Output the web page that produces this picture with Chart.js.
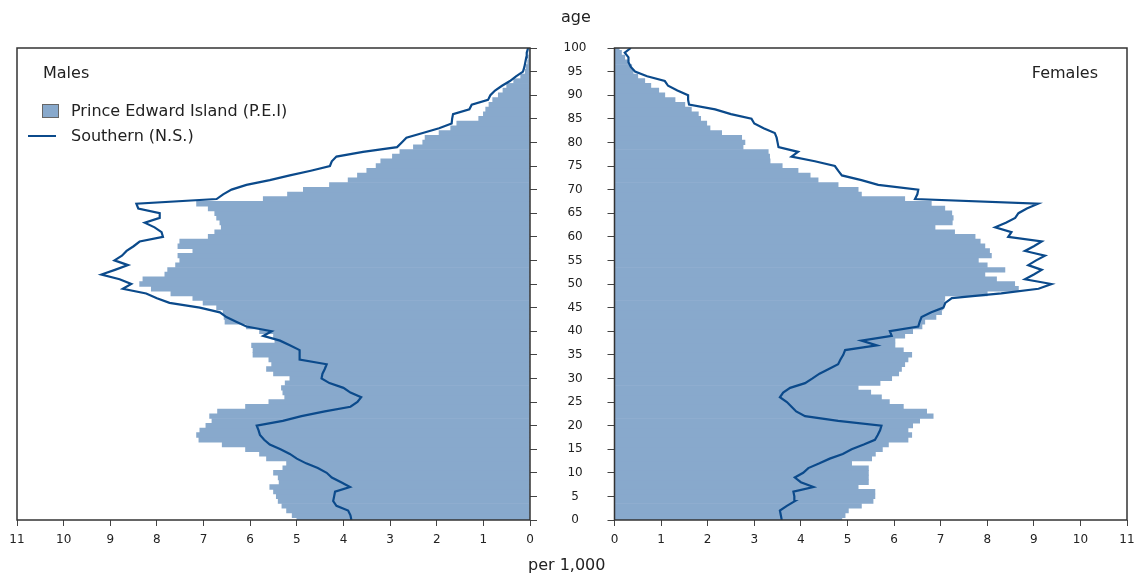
<!DOCTYPE html>
<html lang="en">
<head>
<meta charset="UTF-8">
<title>Age pyramid, P.E.I. and Southern N.S.</title>
<script src="https://cdn.jsdelivr.net/npm/chart.js@4.4.1/dist/chart.umd.min.js"></script>
<style>
  body { margin: 0; background: #fff; font-family: "DejaVu Sans", Verdana, sans-serif; color: #222; }
  #wrap { position: relative; width: 1134px; height: 575px; overflow: hidden; }
  canvas { position: absolute; top: 0; }
  .lbl { position: absolute; font-size: 16px; line-height: 16px; white-space: nowrap; }
  .swatch { position: absolute; left: 42px; top: 104px; width: 15px; height: 12px; background: #88a9cc; border: 1px solid #666; }
  .lineKey { position: absolute; left: 28px; top: 135px; width: 28px; height: 2px; background: #0b4a8b; }
</style>
</head>
<body>
<div id="wrap">
  <canvas id="males" width="540" height="575" style="left:0"></canvas>
  <canvas id="females" width="594" height="575" style="left:540px"></canvas>

  <div class="lbl" style="left:561px; top:9px;">age</div>
  <div class="lbl" style="left:528px; top:557px;">per 1,000</div>
  <div class="lbl" style="left:43px; top:65px;">Males</div>
  <div class="lbl" style="right:36px; top:65px;">Females</div>
  <div class="swatch"></div>
  <div class="lbl" style="left:71px; top:103px;">Prince Edward Island (P.E.I)</div>
  <div class="lineKey"></div>
  <div class="lbl" style="left:71px; top:128px;">Southern (N.S.)</div>
</div>

<script>
// single years of age, 0 to 100
const ages = Array.from({ length: 101 }, (_, i) => i);

// per 1,000 population, by single year of age
const malesPEI = [
  5.00, 5.10, 5.22, 5.32, 5.40, 5.44, 5.50, 5.58, 5.38, 5.40,
  5.50, 5.30, 5.22, 5.65, 5.80, 6.10, 6.60, 7.10, 7.15, 7.08,
  6.95, 6.82, 6.87, 6.70, 6.10, 5.60, 5.26, 5.30, 5.33, 5.25,
  5.15, 5.50, 5.65, 5.54, 5.60, 5.94, 5.94, 5.97, 5.47, 5.50,
  5.80, 6.08, 6.54, 6.56, 6.58, 6.72, 7.01, 7.23, 7.70, 8.12,
  8.37, 8.30, 7.83, 7.77, 7.60, 7.51, 7.55, 7.23, 7.55, 7.51,
  6.90, 6.76, 6.62, 6.65, 6.72, 6.76, 6.90, 7.15, 5.72, 5.20,
  4.86, 4.30, 3.90, 3.70, 3.50, 3.30, 3.20, 2.95, 2.79, 2.50,
  2.30, 2.25, 1.95, 1.70, 1.57, 1.10, 1.00, 0.95, 0.88, 0.80,
  0.68, 0.58, 0.50, 0.35, 0.20, 0.10, 0.08, 0.05, 0.03, 0.02,
  0.01
];
const malesNS = [
  3.83, 3.85, 3.90, 4.15, 4.22, 4.20, 4.18, 3.86, 4.05, 4.25,
  4.36, 4.55, 4.80, 5.00, 5.15, 5.35, 5.58, 5.70, 5.79, 5.82,
  5.86, 5.30, 4.90, 4.40, 3.85, 3.70, 3.62, 3.85, 4.00, 4.30,
  4.47, 4.45, 4.40, 4.36, 4.94, 4.94, 4.94, 5.15, 5.36, 5.72,
  5.54, 6.08, 6.30, 6.51, 6.65, 7.08, 7.73, 8.00, 8.23, 8.73,
  8.55, 8.80, 9.19, 8.90, 8.62, 8.91, 8.75, 8.65, 8.50, 8.37,
  7.87, 7.90, 8.05, 8.26, 7.94, 7.94, 8.40, 8.44, 6.72, 6.58,
  6.40, 6.08, 5.58, 5.15, 4.70, 4.29, 4.25, 4.15, 3.58, 2.85,
  2.75, 2.65, 2.30, 1.95, 1.68, 1.67, 1.65, 1.30, 1.25, 0.90,
  0.85, 0.75, 0.60, 0.43, 0.30, 0.15, 0.12, 0.10, 0.08, 0.07,
  0.04
];
const femalesPEI = [
  4.88, 4.95, 5.02, 5.30, 5.55, 5.59, 5.59, 5.23, 5.45, 5.45,
  5.45, 5.45, 5.09, 5.52, 5.60, 5.75, 5.88, 6.30, 6.38, 6.30,
  6.40, 6.55, 6.84, 6.70, 6.20, 5.90, 5.73, 5.50, 5.23, 5.70,
  5.95, 6.10, 6.16, 6.23, 6.30, 6.38, 6.20, 6.02, 6.02, 6.23,
  6.40, 6.60, 6.66, 6.90, 7.02, 7.05, 7.08, 7.09, 8.00, 8.67,
  8.59, 8.20, 7.95, 8.38, 8.00, 7.81, 8.09, 8.05, 7.95, 7.85,
  7.74, 7.30, 6.88, 7.25, 7.27, 7.24, 7.09, 6.80, 6.23, 5.30,
  5.23, 4.80, 4.37, 4.20, 3.94, 3.60, 3.34, 3.33, 3.30, 2.76,
  2.80, 2.73, 2.30, 2.05, 1.98, 1.85, 1.80, 1.65, 1.51, 1.30,
  1.08, 0.95, 0.78, 0.65, 0.50, 0.40, 0.37, 0.30, 0.22, 0.15,
  0.10
];
const femalesNS = [
  3.59, 3.57, 3.55, 3.70, 3.87, 3.86, 3.84, 4.27, 4.00, 3.87,
  4.05, 4.16, 4.40, 4.62, 4.90, 5.09, 5.35, 5.59, 5.65, 5.70,
  5.73, 4.80, 4.09, 3.90, 3.80, 3.70, 3.55, 3.62, 3.77, 4.09,
  4.25, 4.40, 4.60, 4.80, 4.85, 4.91, 4.95, 5.63, 5.30, 5.95,
  5.91, 6.52, 6.55, 6.59, 6.80, 7.06, 7.10, 7.24, 8.30, 9.10,
  9.38, 8.81, 9.00, 9.17, 8.88, 9.05, 9.24, 8.81, 9.00, 9.17,
  8.45, 8.52, 8.17, 8.40, 8.60, 8.67, 8.85, 9.09, 6.45, 6.50,
  6.52, 5.66, 5.30, 4.88, 4.80, 4.73, 4.30, 3.80, 3.94, 3.52,
  3.50, 3.48, 3.44, 3.20, 3.00, 2.94, 2.50, 2.16, 1.60, 1.58,
  1.58, 1.35, 1.15, 1.08, 0.70, 0.44, 0.35, 0.30, 0.30, 0.22,
  0.35
];

const fillColor = '#88a9cc';
const lineColor = '#0b4a8b';
const axisFont = { family: '"DejaVu Sans", Verdana, sans-serif', size: 12 };

// box around each plot area
const framePlugin = {
  id: 'frame',
  afterDatasetsDraw(chart) {
    const { ctx, chartArea: a } = chart;
    ctx.save();
    ctx.strokeStyle = '#333';
    ctx.lineWidth = 1.5;
    ctx.strokeRect(a.left, a.top, a.right - a.left, a.bottom - a.top);
    ctx.restore();
  }
};

function makePanel(id, pei, ns, isLeft) {
  const toPoints = vals => ages.map((a, i) => ({ x: vals[i], y: a }));
  new Chart(document.getElementById(id), {
    type: 'bar',
    data: {
      datasets: [
        {
          type: 'line',
          indexAxis: 'y',
          data: toPoints(ns),
          borderColor: lineColor,
          borderWidth: 2.2,
          pointRadius: 0,
          fill: false,
          tension: 0,
          order: 0
        },
        {
          type: 'bar',
          data: toPoints(pei),
          backgroundColor: fillColor,
          borderWidth: 0,
          barPercentage: 1,
          categoryPercentage: 1,
          order: 1
        }
      ]
    },
    options: {
      indexAxis: 'y',
      responsive: false,
      animation: false,
      devicePixelRatio: 1,
      layout: {
        padding: isLeft
          ? { left: 17, right: 0, top: 48, bottom: 0 }
          : { left: 0, right: 7, top: 48, bottom: 0 }
      },
      plugins: { legend: { display: false }, tooltip: { enabled: false } },
      scales: {
        x: {
          type: 'linear',
          min: 0,
          max: 11,
          reverse: isLeft,
          afterFit: s => {
            s.height = 55;
            s.paddingLeft = 0;
            s.paddingRight = 0;
          },
          border: { display: false },
          grid: { drawOnChartArea: false, drawTicks: true, tickLength: 6, color: '#444' },
          ticks: { stepSize: 1, padding: 7, color: '#222', font: axisFont, maxRotation: 0 }
        },
        y: {
          type: 'linear',
          position: isLeft ? 'right' : 'left',
          min: 0,
          max: 100,
          offset: false,
          afterFit: s => {
            s.width = isLeft ? 10 : 74.5;
            s.paddingTop = 0;
            s.paddingBottom = 0;
          },
          border: { display: false },
          grid: { offset: false, drawOnChartArea: false, drawTicks: true, tickLength: 7, color: '#444' },
          ticks: {
            stepSize: 5,
            display: !isLeft,
            crossAlign: 'center',
            padding: 21,
            color: '#222',
            font: axisFont
          }
        }
      }
    },
    plugins: [framePlugin]
  });
}

makePanel('males', malesPEI, malesNS, true);
makePanel('females', femalesPEI, femalesNS, false);
</script>
</body>
</html>
